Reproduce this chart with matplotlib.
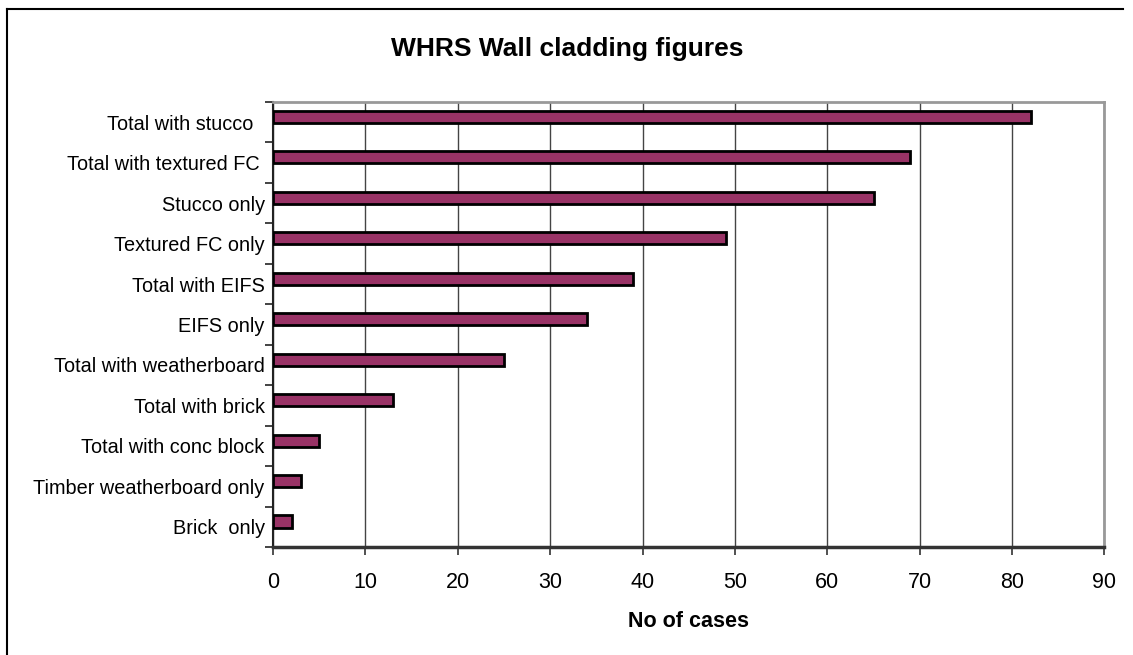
import matplotlib
matplotlib.use("Agg")
import matplotlib.pyplot as plt
from matplotlib.lines import Line2D

categories = [
    "Total with stucco  ",
    "Total with textured FC ",
    "Stucco only",
    "Textured FC only",
    "Total with EIFS",
    "EIFS only",
    "Total with weatherboard",
    "Total with brick",
    "Total with conc block",
    "Timber weatherboard only",
    "Brick  only",
]
cases = [82, 69, 65, 49, 39, 34, 25, 13, 5, 3, 2]
x_ticks = [0, 10, 20, 30, 40, 50, 60, 70, 80, 90]

plt.rcParams["font.family"] = ["Liberation Sans", "DejaVu Sans"]

fig = plt.figure(figsize=(11.33, 6.55), dpi=100)
ax = fig.add_axes([0.2410, 0.1649, 0.7338, 0.6794])

pos = list(range(len(categories)))
# bars sit slightly above the category centre, as in a two-slot clustered layout
bar_pos = [p - 0.13 for p in pos]
ax.barh(bar_pos, cases, height=0.3, color="#993366", edgecolor="black",
        linewidth=2.0, zorder=3)

ax.set_xlim(0, 90)
ax.set_ylim(len(categories) - 0.5, -0.5)
ax.set_xticks(x_ticks)
ax.set_xticklabels([str(t) for t in x_ticks], fontsize=15.5)
ax.set_yticks(pos)
ax.set_yticklabels(categories, fontsize=14.3)
ax.tick_params(axis="y", length=0, pad=6)
ax.tick_params(axis="x", length=6, width=1.2, color="#333333", pad=12, direction="out")

# category separators on the value axis
ax.set_yticks([p + 0.5 for p in [-1] + pos], minor=True)
ax.tick_params(axis="y", which="minor", length=6, width=1.2, color="#222222", direction="out")

ax.xaxis.grid(True, color="#444444", linewidth=1.0, zorder=0)
ax.set_axisbelow(True)

for side in ("top", "right"):
    ax.spines[side].set_color("#999999")
    ax.spines[side].set_linewidth(2.0)
ax.spines["left"].set_color("#222222")
ax.spines["left"].set_linewidth(1.5)
ax.spines["bottom"].set_color("#333333")
ax.spines["bottom"].set_linewidth(2.5)

ax.set_xlabel("No of cases", fontsize=15.5, fontweight="bold", labelpad=13)
fig.text(0.5005, 0.925, "WHRS Wall cladding figures", ha="center", va="center",
         fontsize=19, fontweight="bold")

# outer chart frame
fig.add_artist(Line2D([7 / 1133, 7 / 1133], [0, 1 - 9 / 655], transform=fig.transFigure,
                      color="black", linewidth=1.5))
fig.add_artist(Line2D([7 / 1133, 1123 / 1133], [1 - 9 / 655, 1 - 9 / 655],
                      transform=fig.transFigure, color="black", linewidth=1.5))

fig.savefig("out.png", dpi=100)
